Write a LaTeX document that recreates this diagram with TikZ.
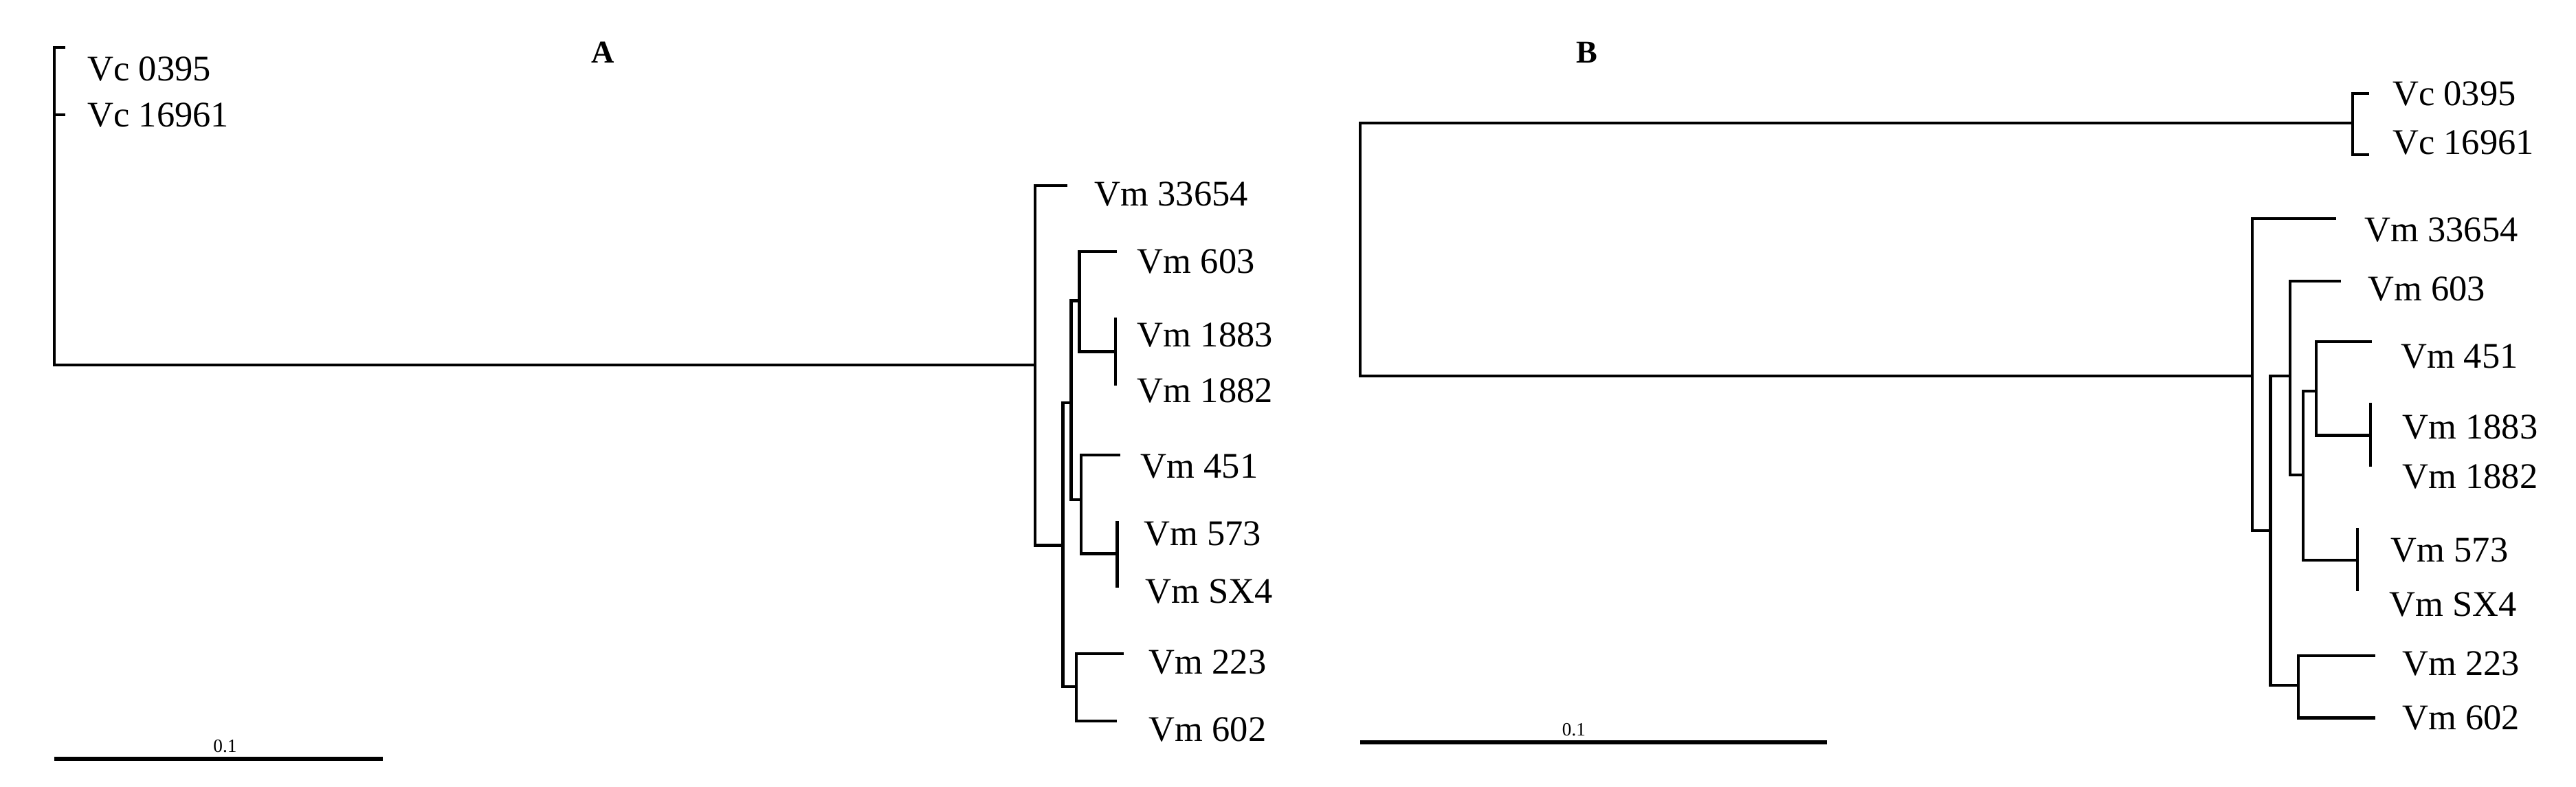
\documentclass[tikz,border=0pt]{standalone}
\usepackage{fontspec}
\setmainfont{Liberation Serif}
\begin{document}
\begin{tikzpicture}[x=0.02cm,y=-0.02cm,
  br/.style={line width=1pt,line cap=rect},
  lab/.style={anchor=west,inner sep=0pt,font=\fontsize{12.5}{14}\selectfont},
  ttl/.style={font=\bfseries\fontsize{11}{13}\selectfont},
  sbar/.style={line width=1.4pt},
  slab/.style={font=\fontsize{6.5}{8}\selectfont,inner sep=1pt,anchor=south}]
\useasboundingbox (0,0) rectangle (1568,479);
\node[ttl] (tA) at (367,32) {A};
\node[ttl] (tB) at (966,32) {B};
% ---------- Tree A ----------
\coordinate (aR) at (33,222);
\coordinate (aVc1) at (39,29);
\coordinate (aVc2) at (39,70);
\coordinate (aM) at (630,222);
\draw[br] (aVc1) -| (33,222) -- (aM);
\draw[br] (33,70) -- (aVc2);
\node[lab] (lA1) at (53,42) {Vc 0395};
\node[lab] (lA2) at (53,70) {Vc 16961};
% cluster
\coordinate (a33) at (649,113);
\coordinate (aN385) at (647,332);
\draw[br] (a33) -| (aM) |- (aN385);
\coordinate (aN415) at (652,245);
\coordinate (aN435) at (655,418);
\draw[br] (aN415) -| (aN385) |- (aN435);
\coordinate (aN450) at (657,183);
\coordinate (aN455) at (658,304);
\draw[br] (aN450) -| (aN415) |- (aN455);
\coordinate (a603) at (679,153);
\coordinate (a1883n) at (679,214);
\draw[br] (a603) -| (aN450) |- (a1883n);
\draw[br] (679,194) -- (679,234);
\coordinate (a451) at (681,277);
\coordinate (a573n) at (680,337);
\draw[br] (a451) -| (aN455) |- (a573n);
\draw[br] (680,318) -- (680,357);
\coordinate (a223) at (683,398);
\coordinate (a602) at (679,439);
\draw[br] (a223) -| (aN435) |- (a602);
\node[lab] (lA3) at (666,118) {Vm 33654};
\node[lab] (lA4) at (692,159) {Vm 603};
\node[lab] (lA5) at (692,204) {Vm 1883};
\node[lab] (lA6) at (692,238) {Vm 1882};
\node[lab] (lA7) at (694,284) {Vm 451};
\node[lab] (lA8) at (696,325) {Vm 573};
\node[lab] (lA9) at (697,360) {Vm SX4};
\node[lab] (lA10) at (699,403) {Vm 223};
\node[lab] (lA11) at (699,444) {Vm 602};
\coordinate (sa1) at (33,462); \coordinate (sa2) at (233,462);
\draw[sbar] (sa1) -- (sa2);
\node[slab] (sla) at (137,460) {0.1};
% ---------- Tree B ----------
\coordinate (bTop) at (1432,75);
\coordinate (bM) at (1371,229);
\draw[br] (bTop) -| (828,229) -- (bM);
\coordinate (bVc1) at (1441,57);
\coordinate (bVc2) at (1441,94);
\draw[br] (bVc1) -| (1432,94) -- (bVc2);
\coordinate (b33) at (1421,133);
\coordinate (bN295) at (1382,323);
\draw[br] (b33) -| (bM) |- (bN295);
\coordinate (bN375) at (1394,229);
\coordinate (bN410) at (1399,417);
\draw[br] (bN375) -| (bN295) |- (bN410);
\coordinate (b603) at (1424,171);
\coordinate (bN430) at (1402,289);
\draw[br] (b603) -| (bN375) |- (bN430);
\coordinate (bN485) at (1410,238);
\coordinate (b573n) at (1435,341);
\draw[br] (bN485) -| (bN430) |- (b573n);
\draw[br] (1435,322) -- (1435,359);
\coordinate (b451) at (1443,208);
\coordinate (b1883n) at (1443,265);
\draw[br] (b451) -| (bN485) |- (b1883n);
\draw[br] (1443,246) -- (1443,283);
\coordinate (b223) at (1445,399);
\coordinate (b602) at (1445,437);
\draw[br] (b223) -| (bN410) |- (b602);
\node[lab] (lB1) at (1456,57) {Vc 0395};
\node[lab] (lB2) at (1456,87) {Vc 16961};
\node[lab] (lB3) at (1439,140) {Vm 33654};
\node[lab] (lB4) at (1441,176) {Vm 603};
\node[lab] (lB5) at (1461,217) {Vm 451};
\node[lab] (lB6) at (1462,260) {Vm 1883};
\node[lab] (lB7) at (1462,290) {Vm 1882};
\node[lab] (lB8) at (1455,335) {Vm 573};
\node[lab] (lB9) at (1454,368) {Vm SX4};
\node[lab] (lB10) at (1462,404) {Vm 223};
\node[lab] (lB11) at (1462,437) {Vm 602};
\coordinate (sb1) at (828,452); \coordinate (sb2) at (1112,452);
\draw[sbar] (sb1) -- (sb2);
\node[slab] (slb) at (958,450) {0.1};
\end{tikzpicture}
\end{document}
